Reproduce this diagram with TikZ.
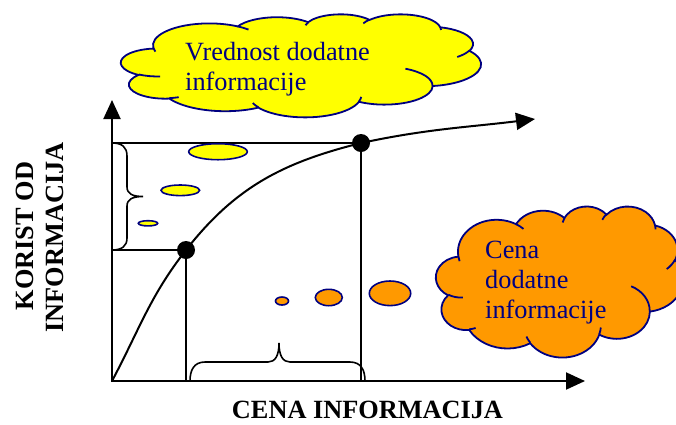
\documentclass[tikz,border=0pt]{standalone}
\usepackage{fontspec}
\setmainfont{Liberation Serif}
\usetikzlibrary{arrows.meta}

\definecolor{cloudedge}{HTML}{000080}
\definecolor{cloudyellow}{HTML}{FFFF00}
\definecolor{cloudorange}{HTML}{FF9900}

% ---- cloud outline built from elliptical arcs (visual angles, y pointing down) ----
% box: left, top, width, height (in pt, top measured downwards)
\newcommand\cldsetbox[4]{%
  \def\cldx{#1}\def\cldy{#2}%
  \pgfmathsetmacro\cldsx{#3/43.2}%
  \pgfmathsetmacro\cldsy{#4/43.2}}
% move to a point of the 43.2 x 43.2 cloud grid
\newcommand\cldmove[2]{%
  \pgfpathmoveto{\pgfpoint{\cldx pt+#1*\cldsx pt}{-\cldy pt-#2*\cldsy pt}}}
% arc: x radius, y radius, start angle, sweep (visual angles, clockwise)
\newcommand\cldarc[4]{%
  \pgfmathsetmacro\cldts{atan2(#1*sin(#3),#2*cos(#3))}%
  \pgfmathsetmacro\cldte{atan2(#1*sin(#3+#4),#2*cos(#3+#4))}%
  \pgfmathsetmacro\cldd{\cldte-(\cldts)}%
  \pgfmathsetmacro\cldd{\cldd<0?\cldd+360:\cldd}%
  \pgfmathsetmacro\cldsa{0-(\cldts)}%
  \pgfmathsetmacro\cldea{0-(\cldts)-\cldd}%
  \pgfmathsetmacro\cldrx{#1*\cldsx}%
  \pgfmathsetmacro\cldry{#2*\cldsy}%
  \pgfpatharc{\cldsa}{\cldea}{\cldrx pt and \cldry pt}}
\newcommand\cloudoutline{%
  \cldmove{3.900}{14.370}%
  \cldarc{6.753}{9.190}{-190.4875}{123.7805}%
  \cldarc{5.333}{7.267}{-144.1024}{89.9452}%
  \cldarc{4.365}{5.945}{-145.8079}{99.7230}%
  \cldarc{4.857}{6.595}{-130.9861}{117.2417}%
  \cldarc{5.333}{7.273}{-78.7089}{109.0269}%
  \cldarc{6.775}{9.220}{-46.2673}{130.2690}%
  \cldarc{5.785}{7.867}{0.6250}{114.0333}%
  \cldarc{6.752}{9.215}{22.4516}{115.1726}%
  \cldarc{7.720}{10.543}{66.2426}{75.7110}%
  \cldarc{4.360}{5.918}{-274.9421}{146.7356}%
  \cldarc{4.345}{5.945}{-246.8285}{152.5241}%
  \pgfpathclose}
\newcommand\cloudcreases{%
  \cldmove{4.693}{26.177}\cldarc{4.345}{5.945}{86.7420}{26.4295}%
  \cldmove{6.928}{34.899}\cldarc{4.360}{5.918}{73.6105}{11.4475}%
  \cldmove{16.478}{39.090}\cldarc{6.752}{9.215}{137.6242}{14.0811}%
  \cldmove{28.827}{34.751}\cldarc{6.752}{9.215}{6.4533}{15.9984}%
  \cldmove{34.129}{22.954}\cldarc{5.785}{7.867}{-70.2924}{70.9174}%
  \cldmove{41.798}{15.354}\cldarc{5.333}{7.273}{30.3180}{27.7515}%
  \cldmove{38.324}{5.426}\cldarc{4.857}{6.595}{-13.7443}{14.8589}%
  \cldmove{29.078}{3.952}\cldarc{4.857}{6.595}{-149.1815}{18.1954}%
  \cldmove{22.141}{4.720}\cldarc{4.365}{5.945}{-163.4943}{17.6864}%
  \cldmove{14.000}{5.192}\cldarc{6.753}{9.190}{-66.7070}{12.3194}%
  \cldmove{4.127}{15.789}\cldarc{6.753}{9.190}{157.6544}{11.8582}}

\begin{document}
\begin{tikzpicture}[x=1pt,y=1pt,
  axes/.style={line width=2pt,
    {Triangle[length=19pt,width=17pt]}-{Triangle[length=19pt,width=17pt]}},
  guide/.style={line width=1.7pt},
  curveline/.style={line width=2pt,-{Triangle[length=19pt,width=17pt]}},
  bracket/.style={line width=1.6pt},
  dot/.style={circle,fill=black,minimum size=18pt,inner sep=0pt},
  cloudbody/.style={draw=cloudedge,line width=1.8pt},
  cloudcrease/.style={draw=cloudedge,line width=1.8pt},
  bubble/.style={draw=cloudedge,line width=1.6pt},
  cloudtext/.style={font=\fontsize{26.3}{30}\selectfont,text=cloudedge,
    inner sep=0pt,anchor=base west},
  axislabel/.style={font=\fontsize{26.3}{30}\selectfont\bfseries,
    inner sep=0pt,anchor=base}]
\useasboundingbox (0,0) rectangle (676,-424);
\clip (0,0) rectangle (676,-424);

% axes
\coordinate (O) at (112,-381);
\coordinate (ytip) at (112,-100);
\coordinate (xtip) at (585,-381);
\draw[axes] (ytip) -- (O) -- (xtip);

% points on the curve and their projections
\coordinate (P1) at (186,-250);
\coordinate (P2) at (361,-143);
\coordinate (Y1) at (112,-250);
\coordinate (Y2) at (112,-143);
\coordinate (X1) at (186,-381);
\coordinate (X2) at (361,-381);
\coordinate (ctip) at (535,-119);

\draw[guide] (Y2) -- (P2) -- (X2);
\draw[guide] (Y1) -- (P1) -- (X1);

% value curve
\draw[curveline] (O) to[out=62,in=232] (P1) to[out=52,in=194] (P2)
  to[out=12,in=187] (ctip);

\node[dot] (D1) at (P1) {};
\node[dot] (D2) at (P2) {};

% braces
\draw[bracket] (Y2) .. controls (122,-143) and (127,-147) .. (127,-156)
  -- (127,-187) .. controls (127,-194) and (133,-196.5) .. (143,-196.5)
  .. controls (133,-196.5) and (127,-199) .. (127,-206)
  -- (127,-238) .. controls (127,-246) and (122,-250) .. (Y1);
\coordinate (B1) at (190,-381);
\coordinate (B2) at (365,-381);
\draw[bracket] (B1) .. controls (190,-370) and (194,-362) .. (205,-362)
  -- (268,-362) .. controls (275,-362) and (279,-356) .. (279,-343)
  .. controls (279,-356) and (283,-362) .. (290,-362)
  -- (350,-362) .. controls (361,-362) and (365,-370) .. (B2);

% small bubbles
\draw[bubble,fill=cloudyellow] (218,-151.7) ellipse [x radius=29.3, y radius=8];
\draw[bubble,fill=cloudyellow] (180.3,-190.3) ellipse [x radius=19.3, y radius=5.3];
\draw[bubble,fill=cloudyellow] (148,-223.3) ellipse [x radius=9.7, y radius=2.6];
\draw[bubble,fill=cloudorange] (282,-301) ellipse [x radius=6.5, y radius=4];
\draw[bubble,fill=cloudorange] (328.8,-297.5) ellipse [x radius=13.5, y radius=8.2];
\draw[bubble,fill=cloudorange] (390,-293.3) ellipse [x radius=20.7, y radius=12.3];

% clouds
\path[cloudbody,fill=cloudyellow] \pgfextra{\cldsetbox{121}{14}{360}{103}\cloudoutline};
\path[cloudcrease] \pgfextra{\cldsetbox{121}{14}{360}{103}\cloudcreases};
\path[cloudbody,fill=cloudorange] \pgfextra{\cldsetbox{436}{206}{247}{151}\cloudoutline};
\path[cloudcrease] \pgfextra{\cldsetbox{436}{206}{247}{151}\cloudcreases};

\node[cloudtext] (v1) at (185,-60) {Vrednost dodatne};
\node[cloudtext] (v2) at (185,-90) {informacije};
\node[cloudtext] (c1) at (485,-258) {Cena};
\node[cloudtext] (c2) at (485,-288) {dodatne};
\node[cloudtext] (c3) at (485,-318) {informacije};

% axis labels
\node[axislabel,rotate=90] (ylab1) at (33,-236) {KORIST OD};
\node[axislabel,rotate=90] (ylab2) at (63,-237.5) {INFORMACIJA};
\node[axislabel] (xlab) at (367.5,-418) {CENA INFORMACIJA};
\end{tikzpicture}
\end{document}
